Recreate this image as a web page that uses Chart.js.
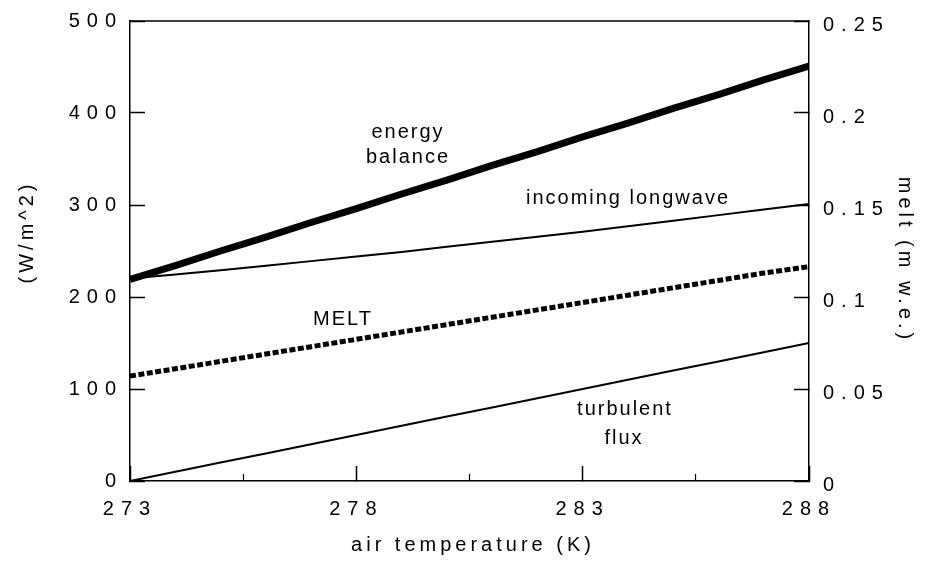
<!DOCTYPE html>
<html>
<head>
<meta charset="utf-8">
<script src="https://cdn.jsdelivr.net/npm/chart.js@4"></script>
<style>
  html, body { margin: 0; padding: 0; background: #fff; }
  #caja { width: 928px; height: 563px; }
</style>
</head>
<body>
<div id="caja"><canvas id="grafico"></canvas></div>
<script>
// air temperature (K)
const temps = [273, 274, 275, 276, 277, 278, 279, 280, 281, 282, 283, 284, 285, 286, 287, 288];
// W/m^2
const energyBalance = [219, 234, 250, 265, 281, 296, 312, 327, 343, 358, 374, 389, 405, 420, 436, 451];
const incomingLongwave = [220, 224.5, 229, 234, 239, 244, 249, 254.5, 260, 265.5, 271, 277, 283, 289, 295, 301];
const turbulentFlux = [0, 10, 20, 30, 40, 50, 60, 70, 80, 90, 100, 110, 120, 130, 140, 150];
// m w.e.
const melt = [0.057, 0.061, 0.065, 0.069, 0.073, 0.077, 0.081, 0.085, 0.089, 0.093, 0.097, 0.101, 0.105, 0.109, 0.113, 0.1165];

const xTicks = [273, 278, 283, 288];
const xMinorTicks = [275.5, 280.5, 285.5];
const fluxTicks = [0, 100, 200, 300, 400, 500];
const meltTicks = [0, 0.05, 0.1, 0.15, 0.2, 0.25];
const meltTickLabels = ["0", "0.05", "0.1", "0.15", "0.2", "0.25"];

const FUENTE = '"Liberation Sans", Arial, sans-serif';

function puntos(serie) {
  return temps.map((t, i) => ({ x: t, y: serie[i] }));
}

function fijarTicks(lista) {
  return function (scale) {
    scale.ticks = lista.map(v => ({ value: v }));
  };
}

// fixed axis sizes, no extra padding from the labels
function medida(ancho, alto) {
  return function (s) {
    if (ancho !== null) s.width = ancho;
    if (alto !== null) s.height = alto;
    s.paddingTop = 0;
    s.paddingBottom = 0;
    s.paddingLeft = 0;
    s.paddingRight = 0;
  };
}

const lineaNegra = { color: "#000", width: 1.5 };
const fuenteTicks = { family: FUENTE, size: 20 };

const textos = {
  id: "textos",
  beforeDraw(chart) {
    // tick labels are spaced out in the original
    chart.ctx.letterSpacing = "7px";
  },
  beforeDatasetsDraw(chart) {
    chart.ctx.letterSpacing = "0px";
  },
  afterDraw(chart) {
    const ctx = chart.ctx;
    const a = chart.chartArea;
    ctx.save();
    // top edge of the frame
    ctx.strokeStyle = "#000";
    ctx.lineWidth = 1.5;
    ctx.beginPath();
    ctx.moveTo(a.left, a.top);
    ctx.lineTo(a.right, a.top);
    ctx.stroke();

    ctx.fillStyle = "#000";
    ctx.font = "20px " + FUENTE;
    ctx.textAlign = "center";
    ctx.textBaseline = "alphabetic";
    ctx.letterSpacing = "2px";
    ctx.fillText("energy", 408, 138);
    ctx.fillText("balance", 408, 163);
    ctx.fillText("incoming longwave", 628, 204);
    ctx.fillText("MELT", 343, 325);
    ctx.fillText("turbulent", 625, 415);
    ctx.fillText("flux", 624, 444);

    // axis titles
    ctx.letterSpacing = "4px";
    ctx.textBaseline = "middle";
    ctx.fillText("air temperature (K)", 473, 545);

    ctx.save();
    ctx.translate(27, 232);
    ctx.rotate(-Math.PI / 2);
    ctx.fillText("(W/m^2)", 0, 0);
    ctx.restore();

    ctx.save();
    ctx.translate(905, 260);
    ctx.rotate(Math.PI / 2);
    ctx.fillText("melt (m w.e.)", 0, 0);
    ctx.restore();

    ctx.restore();
  }
};

Chart.defaults.font.family = FUENTE;
Chart.defaults.font.size = 20;
Chart.defaults.color = "#000";

const ctx = document.getElementById("grafico").getContext("2d");
const grafico = new Chart(ctx, {
  type: "line",
  data: {
    datasets: [
      {
        label: "energy balance",
        data: puntos(energyBalance),
        borderColor: "#000",
        borderWidth: 7,
        yAxisID: "y",
      },
      {
        label: "incoming longwave",
        data: puntos(incomingLongwave),
        borderColor: "#000",
        borderWidth: 2,
        yAxisID: "y",
      },
      {
        label: "turbulent flux",
        data: puntos(turbulentFlux),
        borderColor: "#000",
        borderWidth: 2,
        yAxisID: "y",
      },
      {
        label: "MELT",
        data: puntos(melt),
        borderColor: "#000",
        borderWidth: 5,
        borderDash: [6, 2.5],
        yAxisID: "y2",
      },
    ],
  },
  options: {
    responsive: true,
    maintainAspectRatio: false,
    animation: false,
    events: [],
    layout: { padding: { top: 21, left: 0, right: 0, bottom: 0 } },
    elements: {
      point: { radius: 0 },
      line: { tension: 0, borderCapStyle: "butt" },
    },
    plugins: {
      legend: { display: false },
      tooltip: { enabled: false },
    },
    scales: {
      x: {
        type: "linear",
        position: "bottom",
        weight: 1,
        min: 273,
        max: 288,
        afterBuildTicks: fijarTicks(xTicks),
        afterFit: medida(null, 82),
        ticks: { padding: 31, maxRotation: 0, autoSkip: false, font: fuenteTicks },
        grid: { drawOnChartArea: false, tickLength: -15, tickWidth: 1.5, tickColor: "#000" },
        border: lineaNegra,
      },
      x2: {
        type: "linear",
        position: "bottom",
        weight: 0,
        min: 273,
        max: 288,
        afterBuildTicks: fijarTicks(xMinorTicks),
        afterFit: medida(null, 0),
        ticks: { display: false },
        grid: { drawOnChartArea: false, tickLength: -7, tickWidth: 1.2, tickColor: "#000" },
        border: { display: false },
      },
      y: {
        type: "linear",
        position: "left",
        min: 0,
        max: 500,
        afterBuildTicks: fijarTicks(fluxTicks),
        afterFit: medida(130, null),
        ticks: { padding: 22, font: fuenteTicks },
        grid: { drawOnChartArea: false, tickLength: -15, tickWidth: 1.5, tickColor: "#000" },
        border: lineaNegra,
      },
      y2: {
        type: "linear",
        position: "right",
        min: 0,
        max: 0.25,
        afterBuildTicks: fijarTicks(meltTicks),
        afterFit: medida(119, null),
        ticks: {
          padding: 29,
          labelOffset: 4,
          font: fuenteTicks,
          callback: (v) => meltTickLabels[meltTicks.indexOf(v)] ?? String(v),
        },
        grid: { drawOnChartArea: false, tickLength: -15, tickWidth: 1.5, tickColor: "#000" },
        border: lineaNegra,
      },
    },
  },
  plugins: [textos],
});
</script>
</body>
</html>
